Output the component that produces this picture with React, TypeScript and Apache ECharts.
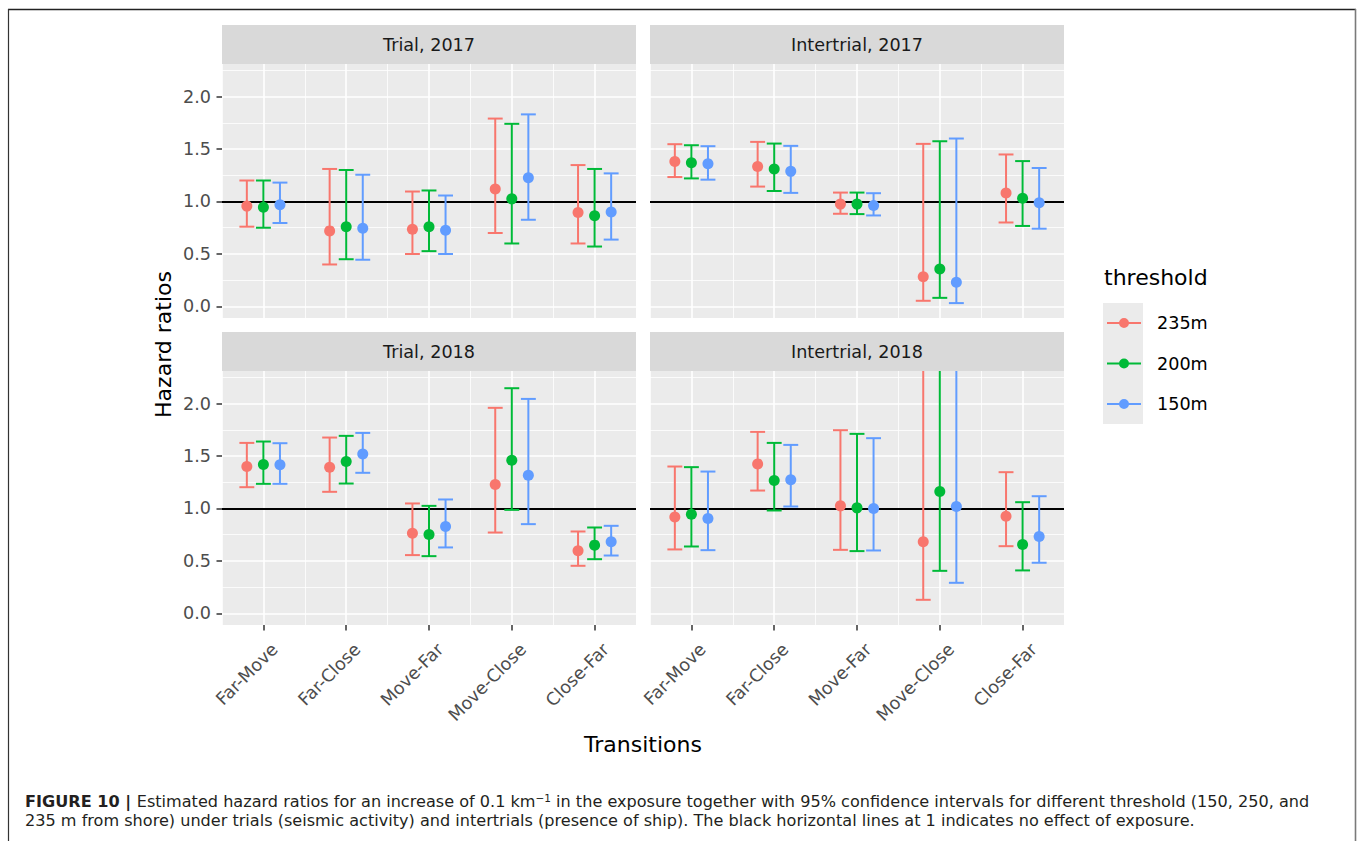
import React, { useEffect, useRef } from 'react';
import * as echarts from 'echarts';

// ---------- data ----------
const transitions = ['Far-Move', 'Far-Close', 'Move-Far', 'Move-Close', 'Close-Far'];
const thresholds = ['235m', '200m', '150m'];
const panelTitles = ['Trial, 2017', 'Intertrial, 2017', 'Trial, 2018', 'Intertrial, 2018'];
const yTicks = [0, 0.5, 1, 1.5, 2];
const yMinorTicks = [0.25, 0.75, 1.25, 1.75, 2.25];
const referenceLine = 1;

// rows: 235m, 200m, 150m ; columns follow `transitions`
const trial2017Est = [
  [0.956, 0.72, 0.735, 1.12, 0.896],
  [0.946, 0.76, 0.76, 1.025, 0.864],
  [0.968, 0.745, 0.725, 1.227, 0.899],
];
const trial2017Lower = [
  [0.76, 0.40, 0.50, 0.70, 0.60],
  [0.75, 0.45, 0.527, 0.60, 0.571],
  [0.795, 0.445, 0.50, 0.826, 0.637],
];
const trial2017Upper = [
  [1.20, 1.31, 1.095, 1.79, 1.347],
  [1.20, 1.30, 1.105, 1.74, 1.31],
  [1.18, 1.255, 1.057, 1.83, 1.268],
];

const intertrial2017Est = [
  [1.38, 1.334, 0.975, 0.284, 1.082],
  [1.37, 1.31, 0.975, 0.356, 1.03],
  [1.36, 1.287, 0.962, 0.23, 0.987],
];
const intertrial2017Lower = [
  [1.233, 1.142, 0.883, 0.054, 0.80],
  [1.22, 1.10, 0.88, 0.082, 0.767],
  [1.208, 1.082, 0.867, 0.032, 0.741],
];
const intertrial2017Upper = [
  [1.546, 1.568, 1.085, 1.549, 1.448],
  [1.536, 1.552, 1.085, 1.574, 1.385],
  [1.527, 1.53, 1.079, 1.60, 1.319],
];

const trial2018Est = [
  [1.40, 1.394, 0.765, 1.229, 0.597],
  [1.419, 1.448, 0.752, 1.46, 0.651],
  [1.416, 1.52, 0.829, 1.317, 0.683],
];
const trial2018Lower = [
  [1.203, 1.159, 0.556, 0.771, 0.454],
  [1.235, 1.238, 0.546, 0.987, 0.517],
  [1.235, 1.34, 0.629, 0.851, 0.552],
];
const trial2018Upper = [
  [1.625, 1.676, 1.048, 1.959, 0.781],
  [1.638, 1.692, 1.025, 2.146, 0.819],
  [1.622, 1.72, 1.086, 2.044, 0.835],
];

const intertrial2018Est = [
  [0.92, 1.425, 1.025, 0.683, 0.927],
  [0.946, 1.267, 1.006, 1.162, 0.657],
  [0.905, 1.273, 1.0, 1.019, 0.733],
];
const intertrial2018Lower = [
  [0.61, 1.171, 0.606, 0.13, 0.641],
  [0.638, 0.981, 0.594, 0.406, 0.41],
  [0.603, 1.019, 0.60, 0.292, 0.483],
];
const intertrial2018Upper = [
  [1.40, 1.73, 1.746, 2.6, 1.346],
  [1.394, 1.625, 1.711, 2.9, 1.06],
  [1.352, 1.606, 1.67, 2.8, 1.117],
];

const panelEst = [trial2017Est, intertrial2017Est, trial2018Est, intertrial2018Est];
const panelLower = [trial2017Lower, intertrial2017Lower, trial2018Lower, intertrial2018Lower];
const panelUpper = [trial2017Upper, intertrial2017Upper, trial2018Upper, intertrial2018Upper];

// ---------- style / layout ----------
const COLORS = ['#F8766D', '#00BA38', '#619CFF'];
const DODGE = [-0.2, 0, 0.2];
const FONT = 'DejaVu Sans';
const CAPTION_FONT = 'DejaVu Sans';
const PANEL_LEFT = [222, 650, 222, 650];
const PANEL_TOP = [64, 64, 371, 371];
const PANEL_W = 414;
const PANEL_H = 254;
const STRIP_H = 39;
const Y_MIN = -0.11;
const Y_MAX = 2.31;
const TICK_COLOR = '#333333';

const makeRenderItem = (t: number) => (params: any, api: any) => {
  const xi = api.value(0);
  const est = api.value(1);
  const lo = api.value(2);
  const hi = api.value(3);
  const band = api.size([1, 0])[0];
  const off = DODGE[t] * band;
  const cap = 0.09 * band;
  const pE = api.coord([xi, est]);
  const pL = api.coord([xi, lo]);
  const pH = api.coord([xi, hi]);
  const cs = params.coordSys;
  const top = cs.y;
  const bottom = cs.y + cs.height;
  const x = pE[0] + off;
  const yH = Math.max(pH[1], top);
  const yL = Math.min(pL[1], bottom);
  const ls = { stroke: COLORS[t], lineWidth: 2 };
  const children: any[] = [
    { type: 'line', shape: { x1: x, y1: yH, x2: x, y2: yL }, style: ls },
  ];
  if (pH[1] >= top) children.push({ type: 'line', shape: { x1: x - cap, y1: pH[1], x2: x + cap, y2: pH[1] }, style: ls });
  if (pL[1] <= bottom) children.push({ type: 'line', shape: { x1: x - cap, y1: pL[1], x2: x + cap, y2: pL[1] }, style: ls });
  children.push({ type: 'circle', shape: { cx: x, cy: pE[1], r: 5.5 }, style: { fill: COLORS[t] } });
  return { type: 'group', children };
};

function buildOption() {
  const grids: any[] = [];
  const xAxes: any[] = [];
  const yAxes: any[] = [];
  const series: any[] = [];
  const graphics: any[] = [];

  for (let g = 0; g < 4; g++) {
    const isBottom = g >= 2;
    const isLeft = g % 2 === 0;
    grids.push({
      left: PANEL_LEFT[g], top: PANEL_TOP[g], width: PANEL_W, height: PANEL_H,
      show: true, backgroundColor: '#EBEBEB', borderWidth: 0,
    });
    xAxes.push({
      type: 'category', gridIndex: g, data: transitions, boundaryGap: true, position: 'bottom',
      axisLine: { show: false, onZero: false },
      axisTick: { show: isBottom, alignWithLabel: true, length: 5.5, lineStyle: { color: TICK_COLOR, width: 1.5 } },
      axisLabel: {
        show: isBottom, interval: 0, rotate: 45, margin: 10, padding: [7, 0, 0, 0],
        align: 'right', verticalAlign: 'top',
        fontFamily: FONT, fontSize: 17.6, color: '#4D4D4D',
      },
      splitLine: { show: true, alignWithLabel: true, lineStyle: { color: '#FFFFFF', width: 1.6 } },
    });
    xAxes.push({
      type: 'value', gridIndex: g, min: -0.5, max: 4.5, interval: 1, position: 'top',
      axisLine: { show: false, onZero: false }, axisTick: { show: false }, axisLabel: { show: false },
      splitLine: { show: true, lineStyle: { color: '#FFFFFF', width: 0.8 } },
    });
    yAxes.push({
      type: 'value', gridIndex: g, min: Y_MIN, max: Y_MAX, position: 'left',
      axisLine: { show: false, onZero: false },
      axisTick: { show: isLeft, length: 5.5, customValues: yTicks, lineStyle: { color: TICK_COLOR, width: 1.5 } },
      axisLabel: {
        show: isLeft, customValues: yTicks, margin: 11,
        formatter: (v: number) => v.toFixed(1),
        fontFamily: FONT, fontSize: 17.6, color: '#4D4D4D',
      },
      splitLine: { show: true, lineStyle: { color: '#FFFFFF', width: 1.6 } },
    });
    yAxes.push({
      type: 'value', gridIndex: g, min: Y_MIN, max: Y_MAX, position: 'right',
      axisLine: { show: false, onZero: false },
      axisTick: { show: false, customValues: yMinorTicks },
      axisLabel: { show: false, customValues: yMinorTicks },
      splitLine: { show: true, lineStyle: { color: '#FFFFFF', width: 0.8 } },
    });

    for (let t = 0; t < 3; t++) {
      const s: any = {
        type: 'custom',
        name: thresholds[t],
        xAxisIndex: 2 * g,
        yAxisIndex: 2 * g,
        itemStyle: { color: COLORS[t] },
        encode: { x: 0, y: 1 },
        data: transitions.map((_, i) => [i, panelEst[g][t][i], panelLower[g][t][i], panelUpper[g][t][i]]),
        renderItem: makeRenderItem(t),
        z: 3,
      };
      if (t === 0) {
        s.markLine = {
          silent: true,
          symbol: ['none', 'none'],
          label: { show: false },
          lineStyle: { color: '#000000', width: 1.8, type: 'solid' },
          data: [{ yAxis: referenceLine }],
          z: 2,
        };
      }
      series.push(s);
    }

    graphics.push({
      type: 'rect', left: PANEL_LEFT[g], top: PANEL_TOP[g] - STRIP_H,
      shape: { width: PANEL_W, height: STRIP_H }, style: { fill: '#D9D9D9' },
    });
    graphics.push({
      type: 'text', x: PANEL_LEFT[g] + PANEL_W / 2, y: PANEL_TOP[g] - STRIP_H / 2,
      style: {
        text: panelTitles[g], fill: '#1A1A1A', font: `17.6px "${FONT}"`,
        textAlign: 'center', textVerticalAlign: 'middle',
      },
    });
  }

  graphics.push({
    type: 'text', x: 163, y: 344.5, rotation: Math.PI / 2,
    style: { text: 'Hazard ratios', fill: '#000000', font: `22px "${FONT}"`, textAlign: 'center', textVerticalAlign: 'middle' },
  });
  graphics.push({
    type: 'text', x: 643, y: 744.5,
    style: { text: 'Transitions', fill: '#000000', font: `22px "${FONT}"`, textAlign: 'center', textVerticalAlign: 'middle' },
  });
  graphics.push({
    type: 'text', x: 1104, y: 277,
    style: { text: 'threshold', fill: '#000000', font: `22px "${FONT}"`, textAlign: 'left', textVerticalAlign: 'middle' },
  });
  graphics.push({
    type: 'rect', left: 1103, top: 303, shape: { width: 40, height: 121 }, style: { fill: '#EBEBEB' }, z: -1,
  });

  graphics.push({ type: 'line', shape: { x1: 8, y1: 9.5, x2: 1356, y2: 9.5 }, style: { stroke: '#222222', lineWidth: 1.4 } });
  graphics.push({ type: 'line', shape: { x1: 8.5, y1: 9, x2: 8.5, y2: 841 }, style: { stroke: '#333333', lineWidth: 1.2 } });
  graphics.push({ type: 'line', shape: { x1: 1355.5, y1: 9, x2: 1355.5, y2: 841 }, style: { stroke: '#7A7A7A', lineWidth: 1.6 } });

  graphics.push({
    type: 'text', x: 25, y: 792.5,
    style: {
      text:
        '{b|FIGURE 10 | }Estimated hazard ratios for an increase of 0.1 km{sup|\u22121} in the exposure together with 95% confidence intervals for different threshold (150, 250, and\n' +
        '235 m from shore) under trials (seismic activity) and intertrials (presence of ship). The black horizontal lines at 1 indicates no effect of exposure.',
      fill: '#231F20',
      fontFamily: CAPTION_FONT,
      fontSize: 16.1,
      lineHeight: 18.5,
      rich: {
        b: { fontFamily: CAPTION_FONT, fontSize: 16.1, fontWeight: 'bold', fill: '#231F20', lineHeight: 18.5 },
        sup: { fontFamily: CAPTION_FONT, fontSize: 10.5, fill: '#231F20', verticalAlign: 'top', lineHeight: 18.5 },
      },
    },
  });

  return {
    animation: false,
    backgroundColor: '#FFFFFF',
    grid: grids,
    xAxis: xAxes,
    yAxis: yAxes,
    series,
    legend: {
      orient: 'vertical',
      left: 1107,
      top: 314,
      padding: 0,
      itemWidth: 34,
      itemHeight: 10,
      itemGap: 22.5,
      selectedMode: false,
      icon: 'path://M12,5a5,5 0 1,0 10,0a5,5 0 1,0 -10,0ZM0,4.1v1.8h34v-1.8Z',
      data: thresholds,
      textStyle: { fontFamily: FONT, fontSize: 17.6, color: '#000000', lineHeight: 18, padding: [0, 0, 0, 11] },
    },
    graphic: graphics,
  };
}

export default function App() {
  const ref = useRef<HTMLDivElement>(null);
  useEffect(() => {
    if (!ref.current) return;
    const chart = echarts.init(ref.current, undefined, { renderer: 'svg' });
    chart.setOption(buildOption() as any);
    return () => chart.dispose();
  }, []);
  return (
    <div
      ref={ref}
      style={{ position: 'fixed', left: 0, top: 0, width: 1362, height: 841, background: '#FFFFFF' }}
    />
  );
}
